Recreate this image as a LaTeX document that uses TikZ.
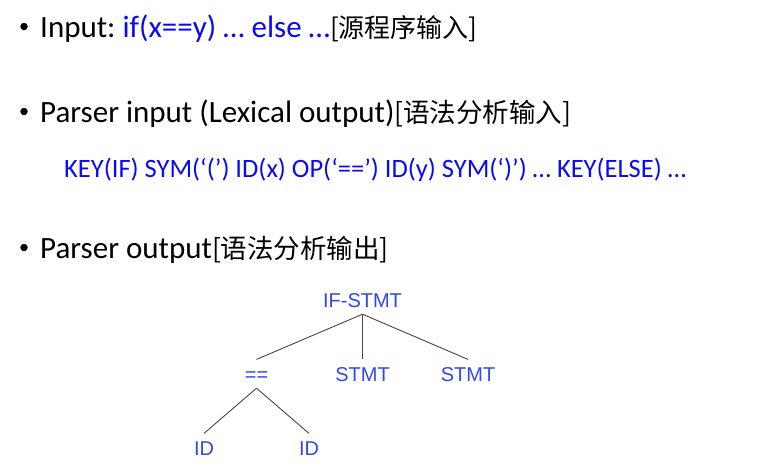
\documentclass[tikz,border=0pt]{standalone}
\usepackage{fontspec}
\setmainfont{Carlito}
\newfontfamily\cjk{Noto Sans CJK SC}
\newfontfamily\arialf{Liberation Sans}
\definecolor{txtblue}{RGB}{10,10,245}
\definecolor{treeblue}{RGB}{50,70,240}
\definecolor{edgegray}{RGB}{70,70,70}
\frenchspacing
\begin{document}
\begin{tikzpicture}[x=1pt,y=-1pt,
  line/.style={anchor=base west,inner sep=0pt,font=\fontsize{31}{36}\selectfont},
  bul/.style={circle,fill=black,inner sep=0pt,minimum size=7.5pt},
  tok/.style={anchor=base west,inner sep=0pt,text=txtblue,font=\fontsize{26.5}{30}\selectfont},
  tn/.style={anchor=base,inner xsep=2pt,inner ysep=7pt,text height=14.4pt,text depth=0pt,text=treeblue,font=\arialf\fontsize{20}{24}\selectfont},
  edge/.style={draw=edgegray,line width=0.9pt}]
\useasboundingbox (0,0) rectangle (769,471);
% line 1
\node[bul] (b1) at (24,26.5) {};
\node[line] (l1) at (40,37) {Input: \textcolor{txtblue}{if(x==y) … else …}{\cjk\fontsize{26}{30}\selectfont[源程序输入]}};
% line 2
\node[bul] (b2) at (24,111.5) {};
\node[line] (l2) at (40,122) {Parser input (Lexical output){\cjk\fontsize{26.5}{30}\selectfont[语法分析输入]}};
% line 3
\node[tok] (l3) at (64,177) {KEY(IF) SYM(‘(’) ID(x) OP(‘==’) ID(y) SYM(‘)’) … KEY(ELSE) …};
% line 4
\node[bul] (b4) at (24,247.5) {};
\node[line] (l4) at (40,258) {Parser output{\cjk\fontsize{26.5}{30}\selectfont[语法分析输出]}};
% tree
\node[tn] (root) at (362.5,307) {IF-STMT};
\node[tn] (eq) at (256.5,381) {==};
\node[tn] (s1) at (362.5,381) {STMT};
\node[tn] (s2) at (468,381) {STMT};
\node[tn] (id1) at (204,455) {ID};
\node[tn] (id2) at (309,455) {ID};
\draw[edge] (root.south) -- (eq.north);
\draw[edge] (root.south) -- (s1.north);
\draw[edge] (root.south) -- (s2.north);
\draw[edge] (eq.south) -- (id1.north);
\draw[edge] (eq.south) -- (id2.north);
\end{tikzpicture}
\end{document}
